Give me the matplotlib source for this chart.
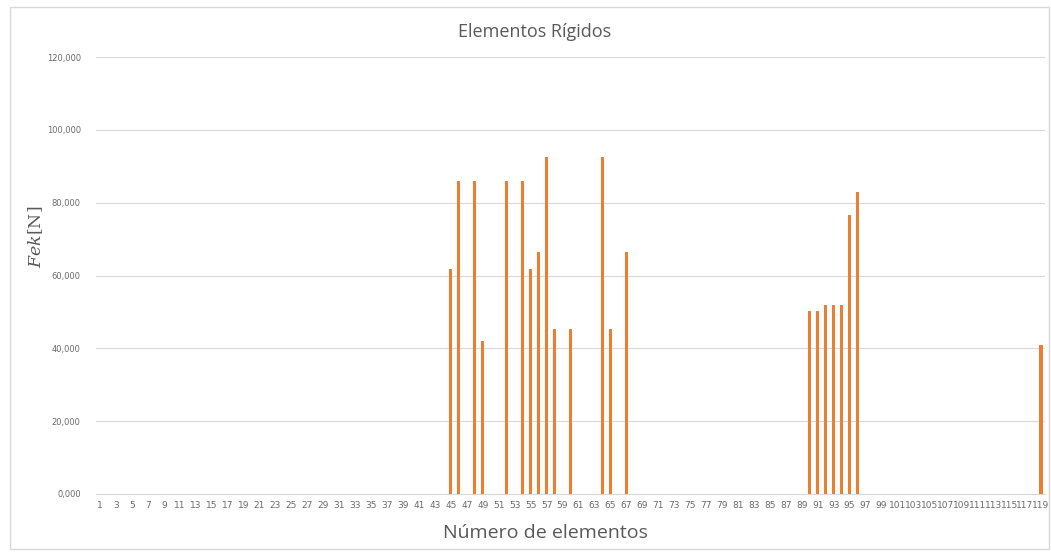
import matplotlib.pyplot as plt
from matplotlib.patches import Rectangle

# elementos 1..119, Fek en kN (solo los distintos de cero)
elementos = list(range(1, 120))
nz_elem = [45, 46, 48, 49, 52, 54, 55, 56, 57, 58, 60, 64, 65, 67,
           90, 91, 92, 93, 94, 95, 96, 119]
nz_fek = [61.7, 86.0, 86.0, 42.0, 86.0, 86.0, 61.7, 66.5, 92.5, 45.3, 45.3, 92.5, 45.3, 66.5,
          50.2, 50.2, 52.0, 52.0, 52.0, 76.5, 83.0, 41.0]
fek = [0.0] * len(elementos)
for e, v in zip(nz_elem, nz_fek):
    fek[e - 1] = v

y_ticks = [0, 20, 40, 60, 80, 100, 120]
x_labels = [str(e) if e % 2 == 1 else '' for e in elementos]

plt.rcParams['mathtext.fontset'] = 'dejavuserif'
gris = '#595959'
fig = plt.figure(figsize=(10.51, 5.53), dpi=100)
fig.patches.append(Rectangle((10 / 1051, 4 / 553), 1039 / 1051, 542 / 553,
                             transform=fig.transFigure, fill=False,
                             edgecolor='#D9D9D9', linewidth=1))

ax = fig.add_axes([96 / 1051, 1 - 494 / 553, 949 / 1051, 437 / 553])
ax.bar(elementos, fek, width=0.4, color='#ED7D31', zorder=3)

ax.set_xlim(0.5, 119.5)
ax.set_ylim(0, 120)
ax.set_yticks(y_ticks)
ax.set_yticklabels([f'{v:.3f}'.replace('.', ',') for v in y_ticks])
ax.set_xticks(elementos)
ax.set_xticklabels(x_labels)
ax.tick_params(axis='both', length=0, labelsize=6, colors='#6b6b6b')
ax.tick_params(axis='x', labelsize=6.5, pad=5)
ax.tick_params(axis='y', pad=11)
ax.grid(axis='y', color='#D9D9D9', linewidth=0.8, zorder=0)
for s in ['top', 'right', 'left']:
    ax.spines[s].set_visible(False)
ax.spines['bottom'].set_color('#D9D9D9')

fig.text(535 / 1051, 1 - 32 / 553, 'Elementos Rígidos', ha='center', va='center',
         fontsize=13, color=gris, family='Open Sans')
fig.text(545 / 1051, 1 - 533 / 553, 'Número de elementos', ha='center', va='center',
         fontsize=14, color=gris, family='Open Sans')
fig.text(36 / 1051, 1 - 237 / 553, r'$Fek$[N]', ha='center', va='center',
         rotation=90, fontsize=12.5, color=gris, family='DejaVu Serif')

fig.savefig('out.png', dpi=100)
